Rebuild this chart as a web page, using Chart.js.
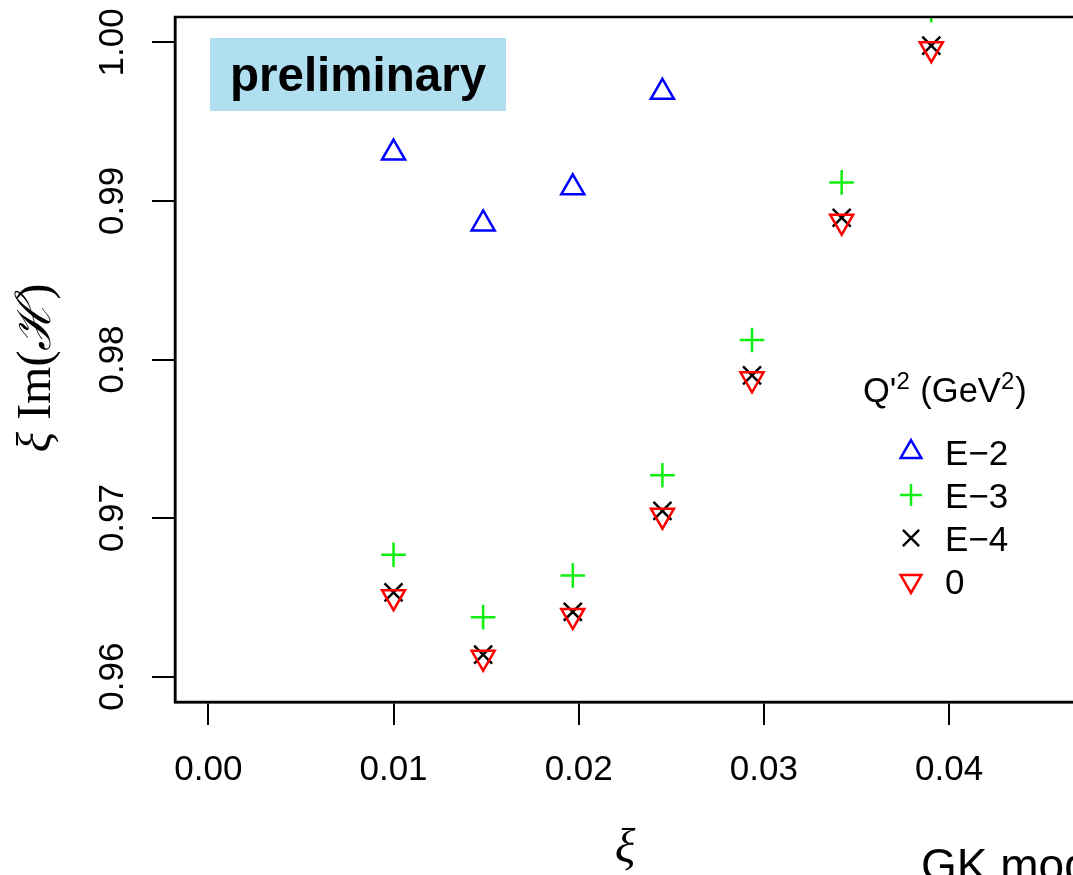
<!DOCTYPE html>
<html>
<head>
<meta charset="utf-8">
<script src="https://cdn.jsdelivr.net/npm/chart.js@4.4.1/dist/chart.umd.min.js"></script>
<style>
  html, body { margin: 0; padding: 0; background: #fff; overflow: hidden; }
  #wrap { width: 1073px; height: 875px; overflow: hidden; }
  canvas { display: block; }
</style>
</head>
<body>
<div id="wrap"><canvas id="imChart" width="1200" height="875"></canvas></div>
<script>
// xi Im(H) vs xi for several Q'^2 values (GK model)
const xiValues = [0.0100, 0.01484, 0.01968, 0.02452, 0.02936, 0.0342, 0.03904];
const imE2 = [0.99303, 0.98856, 0.99084, 0.99686];
const imE3 = [0.96769, 0.96375, 0.96638, 0.97270, 0.98123, 0.99117, 1.00203];
const imE4 = [0.96531, 0.96139, 0.96409, 0.97045, 0.97900, 0.98894, 0.99980];
const im0 = [0.96503, 0.96121, 0.96385, 0.97017, 0.97877, 0.98871, 0.99959];
const xTicks = [0.00, 0.01, 0.02, 0.03, 0.04];
const yTicks = [0.96, 0.97, 0.98, 0.99, 1.00];
const seriesLabels = ['E\u22122', 'E\u22123', 'E\u22124', '0'];

const SANS = '"Liberation Sans", Arial, sans-serif';
const SERIF = '"Liberation Serif", "DejaVu Serif", serif';

function toPoints(vals) {
    return vals.map((v, i) => ({ x: xiValues[i], y: v }));
}

// marker styles, same order as seriesLabels
const markers = [
    { pointStyle: 'triangle', rotation: 0, radius: 13.3, color: '#0000ff' },
    { pointStyle: 'cross', rotation: 0, radius: 12.3, color: '#11ee11' },
    { pointStyle: 'crossRot', rotation: 0, radius: 12.7, color: '#000000' },
    { pointStyle: 'triangle', rotation: 180, radius: 13.3, color: '#ff0000' }
];
const seriesValues = [imE2, imE3, imE4, im0];

const datasets = seriesValues.map((vals, k) => ({
    label: seriesLabels[k],
    data: toPoints(vals),
    pointStyle: markers[k].pointStyle,
    rotation: markers[k].rotation,
    pointRadius: markers[k].radius,
    pointHoverRadius: markers[k].radius,
    borderColor: markers[k].color,
    backgroundColor: 'rgba(0,0,0,0)',
    pointBorderWidth: 2.5,
    clip: 0,
    order: 4 - k   // later series drawn on top
}));

// box, rotated tick labels, titles, legend and notes
const decorations = {
    id: 'decorations',
    afterDraw(chart) {
        const ctx = chart.ctx;
        const area = chart.chartArea;
        const xs = chart.scales.x;
        const ys = chart.scales.y;
        ctx.save();

        // plot frame
        ctx.strokeStyle = '#000';
        ctx.lineWidth = 2.5;
        ctx.strokeRect(area.left, area.top, area.right - area.left, area.bottom - area.top);

        // x tick labels
        ctx.fillStyle = '#000';
        ctx.font = '35px ' + SANS;
        ctx.textAlign = 'center';
        ctx.textBaseline = 'alphabetic';
        xTicks.forEach(v => {
            ctx.fillText(v.toFixed(2), xs.getPixelForValue(v), area.bottom + 78);
        });

        // y tick labels, reading bottom to top
        yTicks.forEach(v => {
            ctx.save();
            ctx.translate(123, ys.getPixelForValue(v));
            ctx.rotate(-Math.PI / 2);
            ctx.fillText(v.toFixed(2), 0, 0);
            ctx.restore();
        });

        // x axis title
        ctx.font = 'italic 48px ' + SERIF;
        ctx.fillText('\u03be', (area.left + area.right) / 2, 862);

        // y axis title: xi Im(H)
        const parts = [
            { t: '\u03be', f: 'italic 48px ' + SERIF },
            { t: ' Im', f: '48px ' + SERIF },
            { t: '(', f: '48px ' + SERIF },
            { t: '\u210b', f: 'italic 48px ' + SERIF },
            { t: ')', f: '48px ' + SERIF }
        ];
        let total = 0;
        parts.forEach(p => { ctx.font = p.f; p.w = ctx.measureText(p.t).width; total += p.w; });
        ctx.save();
        ctx.translate(50, 368);
        ctx.rotate(-Math.PI / 2);
        ctx.textAlign = 'left';
        let px = -total / 2;
        parts.forEach(p => { ctx.font = p.f; ctx.fillText(p.t, px, 0); px += p.w; });
        ctx.restore();

        // "preliminary" tag
        ctx.fillStyle = '#b0dff0';
        ctx.fillRect(area.left + 35, area.top + 21, 296, 73);
        ctx.fillStyle = '#000';
        ctx.font = 'bold 47.5px ' + SANS;
        ctx.textAlign = 'left';
        ctx.fillText('preliminary', area.left + 55, area.top + 74);

        // legend title Q'^2 (GeV^2)
        const title = [
            { t: 'Q\'', sup: false }, { t: '2', sup: true },
            { t: ' (GeV', sup: false }, { t: '2', sup: true }, { t: ')', sup: false }
        ];
        let cx = 863;
        title.forEach(p => {
            ctx.font = (p.sup ? '24px ' : '34.5px ') + SANS;
            ctx.fillText(p.t, cx, p.sup ? 389 : 402);
            cx += ctx.measureText(p.t).width + (p.sup ? 1 : 0);
        });

        // legend entries
        const rowY = [452, 495, 538, 581];
        seriesLabels.forEach((lab, k) => {
            const m = markers[k];
            ctx.strokeStyle = m.color;
            ctx.fillStyle = 'rgba(0,0,0,0)';
            ctx.lineWidth = 2.5;
            Chart.helpers.drawPoint(ctx, {
                pointStyle: m.pointStyle, rotation: m.rotation,
                radius: m.radius * 0.9, borderWidth: 2.5
            }, 911, rowY[k]);
            ctx.fillStyle = '#000';
            ctx.font = '35px ' + SANS;
            ctx.fillText(lab, 945, rowY[k] + 12.5);
        });

        // model note at the bottom
        ctx.font = '46px ' + SANS;
        ctx.fillText('GK model', 921, 881);

        ctx.restore();
    }
};

const axisCommon = {
    type: 'linear',
    ticks: { display: false },
    grid: {
        display: true,
        drawOnChartArea: false,
        drawTicks: true,
        tickLength: 23,
        color: '#000',
        lineWidth: 2
    },
    border: { display: true, color: '#000', width: 2.5 }
};

new Chart(document.getElementById('imChart'), {
    type: 'scatter',
    data: { datasets },
    options: {
        responsive: false,
        animation: false,
        events: [],
        layout: { padding: { top: 17, right: 125, left: 0, bottom: 0 } },
        scales: {
            x: Object.assign({}, axisCommon, {
                min: -0.0018,
                max: 0.0468,
                afterBuildTicks: s => { s.ticks = xTicks.map(v => ({ value: v })); },
                afterFit: s => { s.height = 173; }
            }),
            y: Object.assign({}, axisCommon, {
                min: 0.9584,
                max: 1.0016,
                afterBuildTicks: s => { s.ticks = yTicks.map(v => ({ value: v })); },
                afterFit: s => { s.width = 175; }
            })
        },
        plugins: {
            legend: { display: false },
            tooltip: { enabled: false }
        }
    },
    plugins: [decorations]
});
</script>
</body>
</html>
